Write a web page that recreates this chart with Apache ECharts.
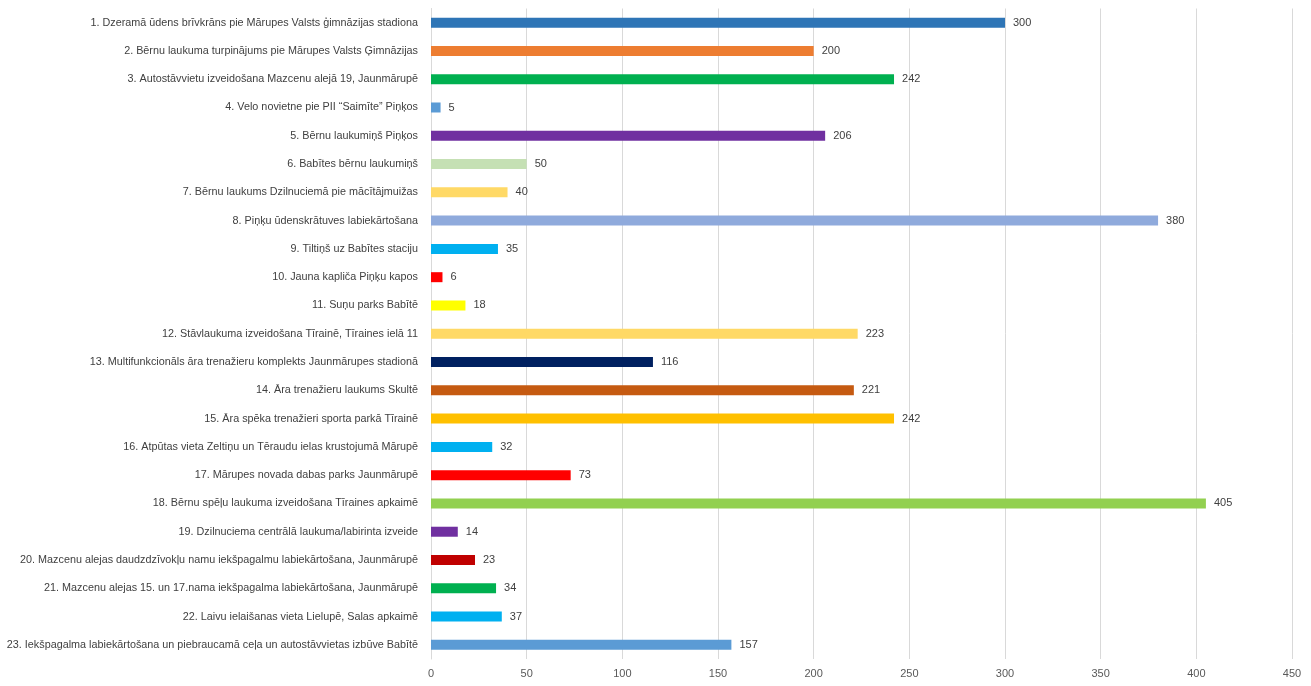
<!DOCTYPE html>
<html><head><meta charset="utf-8">
<script src="https://cdn.jsdelivr.net/npm/echarts@6/dist/echarts.min.js"></script>
<style>html,body{margin:0;padding:0;background:#fff}#c{width:1311px;height:686px}</style>
</head><body><div id="c"></div>
<script>
const categories = [
"1. Dzeramā ūdens brīvkrāns pie Mārupes Valsts ģimnāzijas stadiona",
"2. Bērnu laukuma turpinājums pie Mārupes Valsts Ģimnāzijas",
"3. Autostāvvietu izveidošana Mazcenu alejā 19, Jaunmārupē",
"4. Velo novietne pie PII “Saimīte” Piņķos",
"5. Bērnu laukumiņš Piņķos",
"6. Babītes bērnu laukumiņš",
"7. Bērnu laukums Dzilnuciemā pie mācītājmuižas",
"8. Piņķu ūdenskrātuves labiekārtošana",
"9. Tiltiņš uz Babītes staciju",
"10. Jauna kapliča Piņķu kapos",
"11. Suņu parks Babītē",
"12. Stāvlaukuma izveidošana Tīrainē, Tīraines ielā 11",
"13. Multifunkcionāls āra trenažieru komplekts Jaunmārupes stadionā",
"14. Āra trenažieru laukums Skultē",
"15. Āra spēka trenažieri sporta parkā Tīrainē",
"16. Atpūtas vieta Zeltiņu un Tēraudu ielas krustojumā Mārupē",
"17. Mārupes novada dabas parks Jaunmārupē",
"18. Bērnu spēļu laukuma izveidošana Tīraines apkaimē",
"19. Dzilnuciema centrālā laukuma/labirinta izveide",
"20. Mazcenu alejas daudzdzīvokļu namu iekšpagalmu labiekārtošana, Jaunmārupē",
"21. Mazcenu alejas 15. un 17.nama iekšpagalma labiekārtošana, Jaunmārupē",
"22. Laivu ielaišanas vieta Lielupē, Salas apkaimē",
"23. Iekšpagalma labiekārtošana un piebraucamā ceļa un autostāvvietas izbūve Babītē"
];
const values = [300,200,242,5,206,50,40,380,35,6,18,223,116,221,242,32,73,405,14,23,34,37,157];
const colors = ["#2E75B6","#ED7D31","#00B050","#5B9BD5","#7030A0","#C5E0B4","#FFD966","#8FAADC","#00B0F0","#FF0000","#FFFF00","#FFD966","#002060","#C55A11","#FFC000","#00B0F0","#FF0000","#92D050","#7030A0","#C00000","#00B050","#00B0F0","#5B9BD5"];
const xTicks = [0,50,100,150,200,250,300,350,400,450];

const chart = echarts.init(document.getElementById('c'), null, {renderer:'canvas'});
chart.setOption({
  animation:false,
  grid:{left:431,right:19,top:8.5,bottom:27,containLabel:false,outerBoundsMode:'none'},
  xAxis:{type:'value',min:xTicks[0],max:xTicks[xTicks.length-1],interval:50,
    axisLine:{show:false},axisTick:{show:false},
    splitLine:{show:true,lineStyle:{color:'#D9D9D9',width:1}},
    axisLabel:{color:'#595959',fontFamily:'Liberation Sans',fontSize:11,margin:9}},
  yAxis:{type:'category',inverse:true,data:categories,
    axisLine:{show:true,lineStyle:{color:'#D9D9D9'}},axisTick:{show:false},
    axisLabel:{color:'#404040',fontFamily:'Liberation Sans',fontSize:10.8,margin:13}},
  series:[{type:'bar',barWidth:10,
    data:values.map((v,i)=>({value:v,itemStyle:{color:colors[i]}})),
    label:{show:true,position:'right',distance:8,color:'#404040',fontFamily:'Liberation Sans',fontSize:11}}]
});
</script></body></html>
